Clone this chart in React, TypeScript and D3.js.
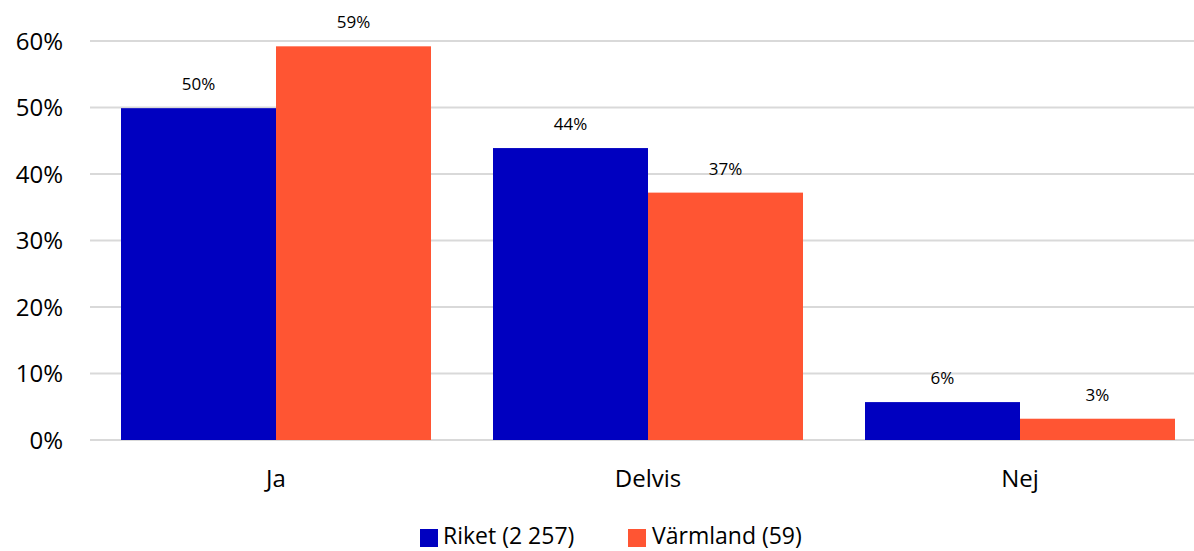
import React from "react";
import * as d3 from "d3";

const categories = ["Ja", "Delvis", "Nej"];
const seriesNames = ["Riket (2 257)", "Värmland (59)"];
const riket = [49.9, 43.9, 5.7];
const varmland = [59.2, 37.2, 3.2];
const riketLabels = ["50%", "44%", "6%"];
const varmlandLabels = ["59%", "37%", "3%"];
const yTicks = [0, 10, 20, 30, 40, 50, 60];
const colors = ["#0000C0", "#FF5533"];

const W = 1194;
const H = 551;
const FONT = "'Open Sans', sans-serif";

export default function App() {
  const x = d3.scaleBand<string>().domain(categories).range([90, 1206]).paddingInner(0).paddingOuter(0);
  const y = d3.scaleLinear().domain([0, 60]).range([440, 41]);
  const inner = d3.scaleBand<number>().domain([0, 1]).range([0, x.bandwidth()]).paddingOuter(0.2).paddingInner(0);
  const series = [riket, varmland];
  const labels = [riketLabels, varmlandLabels];

  return (
    <svg width={W} height={H} style={{ position: "absolute", left: 0, top: 0, background: "#fff" }}>
      {yTicks.map((t) => (
        <g key={t}>
          <line x1={90} x2={W} y1={y(t)} y2={y(t)} stroke="#d9d9d9" strokeWidth={2} />
          <text x={63} y={y(t)} dy="0.36em" textAnchor="end" fontFamily={FONT} fontSize={24} fill="#000">
            {t}%
          </text>
        </g>
      ))}
      {categories.map((c, i) => (
        <g key={c}>
          {series.map((s, k) => {
            const bx = (x(c) as number) + (inner(k) as number);
            return (
              <g key={k}>
                <rect x={bx} y={y(s[i])} width={inner.bandwidth()} height={y(0) - y(s[i])} fill={colors[k]} />
                <text x={bx + inner.bandwidth() / 2} y={y(s[i]) - 18} textAnchor="middle" fontFamily={FONT} fontSize={17} fill="#000">
                  {labels[k][i]}
                </text>
              </g>
            );
          })}
          <text x={(x(c) as number) + x.bandwidth() / 2} y={487} textAnchor="middle" fontFamily={FONT} fontSize={24} fill="#000">
            {c}
          </text>
        </g>
      ))}
      <g>
        <rect x={420} y={529} width={18} height={18} fill={colors[0]} />
        <text x={443} y={544} fontFamily={FONT} fontSize={23} fill="#000">{seriesNames[0]}</text>
        <rect x={628} y={529} width={18} height={18} fill={colors[1]} />
        <text x={652} y={544} fontFamily={FONT} fontSize={23} fill="#000">{seriesNames[1]}</text>
      </g>
    </svg>
  );
}
